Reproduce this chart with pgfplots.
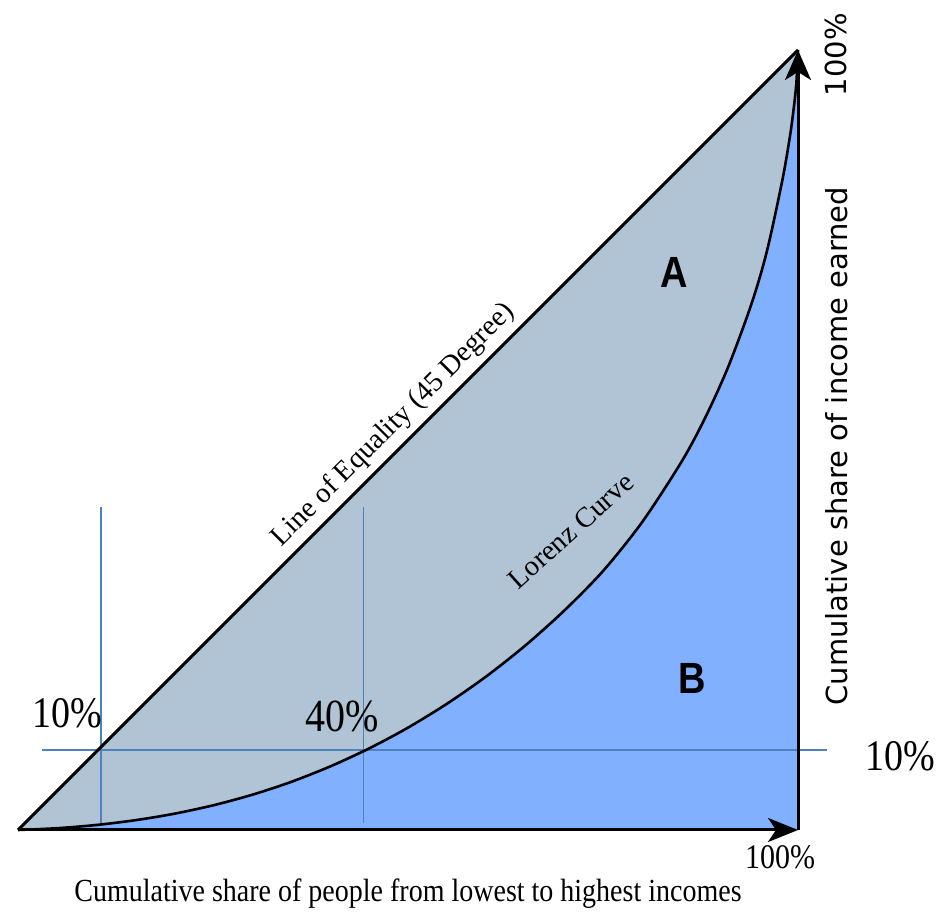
\documentclass[border=0pt]{standalone}
\usepackage{fontspec}
\setmainfont{Liberation Serif}
\newfontfamily\djv{DejaVu Sans}
\newfontfamily\arl{Liberation Sans}
\usepackage{pgfplots}
\pgfplotsset{compat=1.18}
\usetikzlibrary{arrows.meta}

\definecolor{areaA}{RGB}{176,196,214}
\definecolor{areaB}{RGB}{128,176,255}
\definecolor{guide}{RGB}{79,129,189}

% Lorenz curve (percent of people, percent of income)
\pgfplotstableread{
x y
0 0
5 0.23
10 0.64
15 1.25
20 2.08
25 3.16
30 4.51
35 6.16
40 8.14
45 10.45
50 13.12
55 16.19
60 19.67
65 23.62
70 28.10
75 33.20
80 39.45
85 47.10
88 52.65
91 59.25
94 67.35
96 74.15
98 83.35
99 89.15
99.5 92.95
99.8 95.89
100 100
}\lorenz

\newcommand{\tall}[1]{\scalebox{1}[1.15]{#1}}

\begin{document}
\begin{tikzpicture}
\useasboundingbox (-18pt,-87pt) rectangle (921pt,830pt);
\begin{axis}[
    at={(0pt,0pt)}, anchor=south west,
    scale only axis,
    width=780pt, height=780pt,
    xmin=0, xmax=100,
    ymin=0, ymax=100,
    axis lines=none,
    clip=false,
]

% area A (under the line of equality) and area B (under the Lorenz curve)
\addplot[fill=areaA, draw=none] coordinates {(0,0) (100,100)} \closedcycle;
\addplot[fill=areaB, draw=none, smooth] table[x=x, y=y] {\lorenz} \closedcycle;

% guide lines
\addplot[guide, line width=1.7pt] coordinates {(10.6,0.9) (10.6,41.4)};
\addplot[guide, line width=1.7pt] coordinates {(44.3,0.9) (44.3,41.4)};
\addplot[guide, line width=1.7pt] coordinates {(3.1,10.3) (103.7,10.3)};

% curves and axes
\addplot[black, line width=2.6pt, smooth] table[x=x, y=y] {\lorenz};
\addplot[black, line width=3pt] coordinates {(0,0) (100,100)};
\addplot[black, line width=3pt, -{Stealth[length=30pt, width=24pt, inset=8pt]}] coordinates {(0,0) (100,0)};
\addplot[black, line width=3pt, -{Stealth[length=30pt, width=26pt, inset=8pt]}] coordinates {(100,0) (100,100)};

% labels
\node[rotate=45, font=\fontsize{28.5}{30}\selectfont] at (axis cs:48.1,51.9) {Line of Equality (45 Degree)};
\node[rotate=42, font=\fontsize{28.5}{30}\selectfont] at (axis cs:70.9,38.4) {Lorenz Curve};
\node[font=\arl\bfseries\fontsize{38}{40}\selectfont] at (axis cs:84.1,71.5) {\tall{A}};
\node[font=\arl\bfseries\fontsize{38}{40}\selectfont] at (axis cs:86.4,19.4) {\tall{B}};
\node[font=\fontsize{38}{40}\selectfont] at (axis cs:6.3,15.0) {\tall{10\%}};
\node[font=\fontsize{40}{42}\selectfont] at (axis cs:41.5,14.6) {\tall{40\%}};
\node[font=\fontsize{38}{40}\selectfont] at (axis cs:113.1,9.4) {\tall{10\%}};
\node[font=\fontsize{30}{32}\selectfont] at (axis cs:97.7,-3.5) {\tall{100\%}};
\node[font=\fontsize{28}{30}\selectfont] at (axis cs:50,-8.1) {\tall{Cumulative share of people from lowest to highest incomes}};
\node[rotate=90, font=\djv\fontsize{29}{31}\selectfont] at (axis cs:104.9,99.4) {100\%};
\node[rotate=90, font=\djv\fontsize{29}{31}\selectfont] at (axis cs:104.9,49.2) {Cumulative share of income earned};
\end{axis}
\end{tikzpicture}
\end{document}
